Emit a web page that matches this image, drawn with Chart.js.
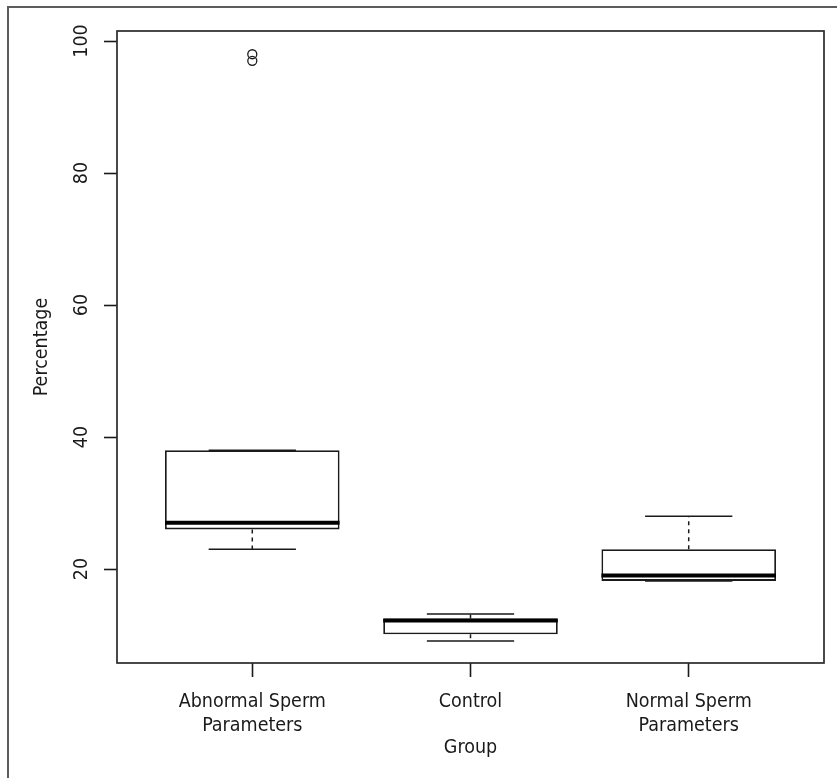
<!DOCTYPE html>
<html>
<head>
<meta charset="utf-8">
<script src="https://cdn.jsdelivr.net/npm/chart.js@4/dist/chart.umd.min.js"></script>
<style>
  html, body { margin: 0; padding: 0; background: #fff; }
  #wrap { width: 837px; height: 778px; position: relative; }
</style>
</head>
<body>
<div id="wrap"><canvas id="chartCanvas"></canvas></div>
<script>
// group labels (multi-line as in the original)
const groups = [["Abnormal Sperm", "Parameters"], "Control", ["Normal Sperm", "Parameters"]];
const lowerWhisker = [23, 9.1, 18.2];
const q1 = [26, 10.1, 18.2];
const median = [27, 12.2, 19];
const q3 = [38, 12.5, 23];
const upperWhisker = [38, 13.2, 28];
const outliers = [[98, 97], [], []];
const yTicks = [20, 40, 60, 80, 100];

const FONT = "'DejaVu Sans Condensed', 'Liberation Sans', sans-serif";
const INK = "#1a1a1a";

// build segments from the stats, with null gaps between groups
const seg = (pairs) => {
    const out = [];
    pairs.forEach((p) => { out.push(p[0], p[1], { x: p[1].x, y: null }); });
    return out;
};
const pos = groups.map((g, i) => i + 1);

const boxes = pos.map((x, i) => ({ x: x, y: [q1[i], q3[i]] }));
const medians = seg(pos.map((x, i) => [{ x: x - 0.4, y: median[i] }, { x: x + 0.4, y: median[i] }]));
const whiskers = seg(pos.flatMap((x, i) => [
    [{ x: x, y: q3[i] }, { x: x, y: upperWhisker[i] }],
    [{ x: x, y: q1[i] }, { x: x, y: lowerWhisker[i] }],
]));
const caps = seg(pos.flatMap((x, i) => [
    [{ x: x - 0.2, y: upperWhisker[i] }, { x: x + 0.2, y: upperWhisker[i] }],
    [{ x: x - 0.2, y: lowerWhisker[i] }, { x: x + 0.2, y: lowerWhisker[i] }],
]));
const outlierPts = pos.flatMap((x, i) => outliers[i].map((v) => ({ x: x, y: v })));

const framePlugin = {
    id: "frame",
    beforeDraw(chart) {
        const ctx = chart.ctx;
        ctx.save();
        ctx.strokeStyle = "#5c5c5c";
        ctx.lineWidth = 2;
        ctx.beginPath();
        ctx.moveTo(8, chart.height);
        ctx.lineTo(8, 7);
        ctx.lineTo(chart.width, 7);
        ctx.stroke();
        ctx.restore();
    },
    afterDraw(chart) {
        const ctx = chart.ctx;
        const a = chart.chartArea;
        const y = chart.scales.y;
        ctx.save();
        ctx.strokeStyle = "#2a2a2a";
        ctx.lineWidth = 1.7;
        ctx.strokeRect(a.left, a.top, a.right - a.left, a.bottom - a.top);
        // rotated y tick labels, like R's default las=0
        ctx.fillStyle = INK;
        ctx.font = "19.5px " + FONT;
        ctx.textAlign = "center";
        ctx.textBaseline = "middle";
        yTicks.forEach((v) => {
            ctx.save();
            ctx.translate(82, y.getPixelForValue(v));
            ctx.rotate(-Math.PI / 2);
            ctx.fillText(String(v), 0, 0);
            ctx.restore();
        });
        ctx.restore();
    },
};

const labelFont = { family: FONT, size: 19.5, lineHeight: 24 / 19.5 };

new Chart(document.getElementById("chartCanvas").getContext("2d"), {
    type: "bar",
    data: {
        datasets: [
            {
                type: "scatter",
                data: outlierPts,
                pointStyle: "circle",
                pointRadius: 4.5,
                pointBorderWidth: 1.3,
                pointBackgroundColor: "rgba(0,0,0,0)",
                pointBorderColor: INK,
                order: 1,
            },
            {
                type: "line",
                data: medians,
                borderColor: "#000",
                borderWidth: 4,
                pointRadius: 0,
                spanGaps: false,
                order: 2,
            },
            {
                type: "line",
                data: caps,
                borderColor: INK,
                borderWidth: 1.5,
                pointRadius: 0,
                spanGaps: false,
                order: 3,
            },
            {
                type: "line",
                data: whiskers,
                borderColor: INK,
                borderWidth: 1.5,
                borderDash: [4, 4],
                pointRadius: 0,
                spanGaps: false,
                order: 4,
            },
            {
                type: "bar",
                data: boxes,
                backgroundColor: "#fff",
                borderColor: INK,
                borderWidth: 1.8,
                borderSkipped: false,
                barPercentage: 0.8,
                categoryPercentage: 1,
                order: 5,
            },
        ],
    },
    options: {
        responsive: true,
        maintainAspectRatio: false,
        animation: false,
        layout: { padding: { top: 31, right: 13, left: 0, bottom: 0 } },
        plugins: { legend: { display: false }, tooltip: { enabled: false } },
        scales: {
            x: {
                type: "linear",
                offset: false,
                min: 0.38,
                max: 3.62,
                afterBuildTicks: (s) => { s.ticks = pos.map((v) => ({ value: v })); },
                afterFit: (s) => { s.height = 115; },
                grid: { offset: false, drawOnChartArea: false, drawTicks: true, tickLength: 14, tickColor: INK, tickWidth: 1.6 },
                border: { display: false },
                ticks: {
                    autoSkip: false,
                    maxRotation: 0,
                    padding: 13,
                    color: INK,
                    font: labelFont,
                    callback: (v) => groups[v - 1],
                },
                title: {
                    display: true,
                    text: "Group",
                    color: INK,
                    font: labelFont,
                    padding: { top: 0, bottom: 18 },
                },
            },
            y: {
                min: 5.76,
                max: 101.52,
                afterBuildTicks: (s) => { s.ticks = yTicks.map((v) => ({ value: v })); },
                afterFit: (s) => { s.width = 117; },
                grid: { drawOnChartArea: false, drawTicks: true, tickLength: 13, tickColor: INK, tickWidth: 1.6 },
                border: { display: false },
                ticks: { color: "rgba(0,0,0,0)", callback: () => "" },
                title: {
                    display: true,
                    text: "Percentage",
                    color: INK,
                    font: labelFont,
                    padding: { top: 30, bottom: 0 },
                },
            },
        },
    },
    plugins: [framePlugin],
});
</script>
</body>
</html>
